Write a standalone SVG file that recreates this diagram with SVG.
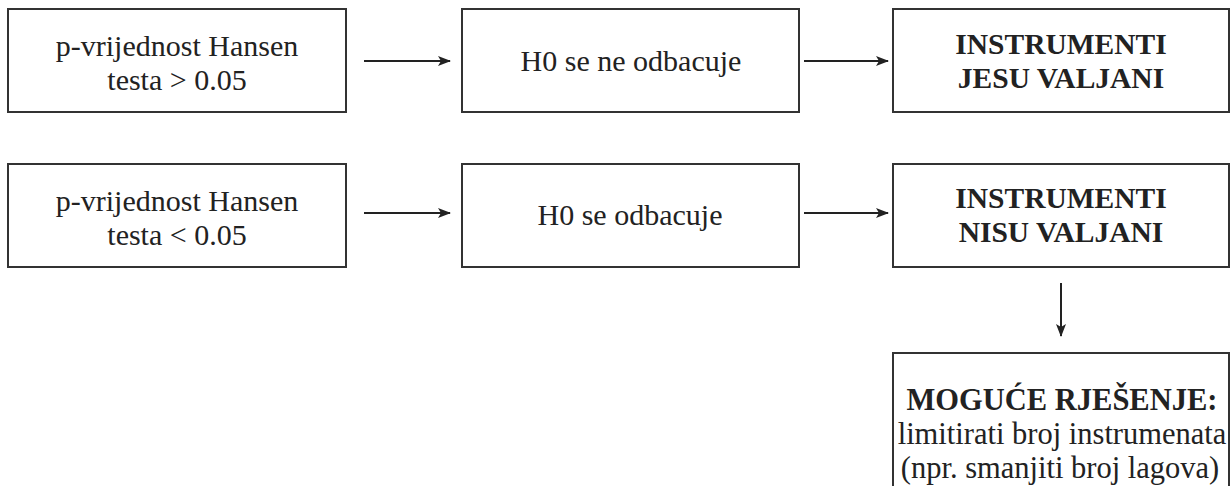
<svg xmlns="http://www.w3.org/2000/svg" width="1231" height="486" viewBox="0 0 1231 486">
<style>
.box{fill:#fff;stroke:#333;stroke-width:2}
.t{font-family:"Liberation Serif","Times New Roman",serif;font-size:30px;fill:#222;text-anchor:middle}
.b{font-weight:bold;font-size:29.5px}
.s{font-size:30.5px}
.c{stroke:#222;stroke-width:2;fill:none}
</style>
<defs>
<marker id="ah" markerWidth="13" markerHeight="10" refX="12" refY="5" orient="auto" markerUnits="userSpaceOnUse">
<path d="M0,0 L13,5 L0,10 L3,5 Z" fill="#222"/>
</marker>
</defs>
<rect width="1231" height="486" fill="#fff"/>
<g id="n1"><rect class="box" x="8" y="9" width="338" height="103"/><text class="t" x="177" y="56">p-vrijednost Hansen</text><text class="t" x="177" y="90">testa &gt; 0.05</text></g>
<g id="n2"><rect class="box" x="462" y="9" width="337" height="103"/><text class="t" x="631" y="71">H0 se ne odbacuje</text></g>
<g id="n3"><rect class="box" x="893" y="9" width="336" height="103"/><text class="t b" x="1061" y="54">INSTRUMENTI</text><text class="t b" x="1061" y="88">JESU VALJANI</text></g>
<g id="n4"><rect class="box" x="8" y="164" width="338" height="103"/><text class="t" x="177" y="211">p-vrijednost Hansen</text><text class="t" x="177" y="245">testa &lt; 0.05</text></g>
<g id="n5"><rect class="box" x="462" y="164" width="337" height="103"/><text class="t" x="630" y="225">H0 se odbacuje</text></g>
<g id="n6"><rect class="box" x="893" y="164" width="336" height="103"/><text class="t b" x="1061" y="208">INSTRUMENTI</text><text class="t b" x="1061" y="242">NISU VALJANI</text></g>
<g id="n7"><rect class="box" x="893" y="353" width="336" height="140"/><text class="t b s" x="1062" y="410">MOGUĆE RJEŠENJE:</text><text class="t s" x="1062" y="444">limitirati broj instrumenata</text><text class="t s" x="1060" y="478">(npr. smanjiti broj lagova)</text></g>
<g id="connectors">
<line class="c" x1="364" y1="61" x2="450" y2="61" marker-end="url(#ah)"/>
<line class="c" x1="804" y1="61" x2="888" y2="61" marker-end="url(#ah)"/>
<line class="c" x1="364" y1="213" x2="450" y2="213" marker-end="url(#ah)"/>
<line class="c" x1="804" y1="213" x2="888" y2="213" marker-end="url(#ah)"/>
<line class="c" x1="1061" y1="283" x2="1061" y2="336" marker-end="url(#ah)"/>
</g>
</svg>
